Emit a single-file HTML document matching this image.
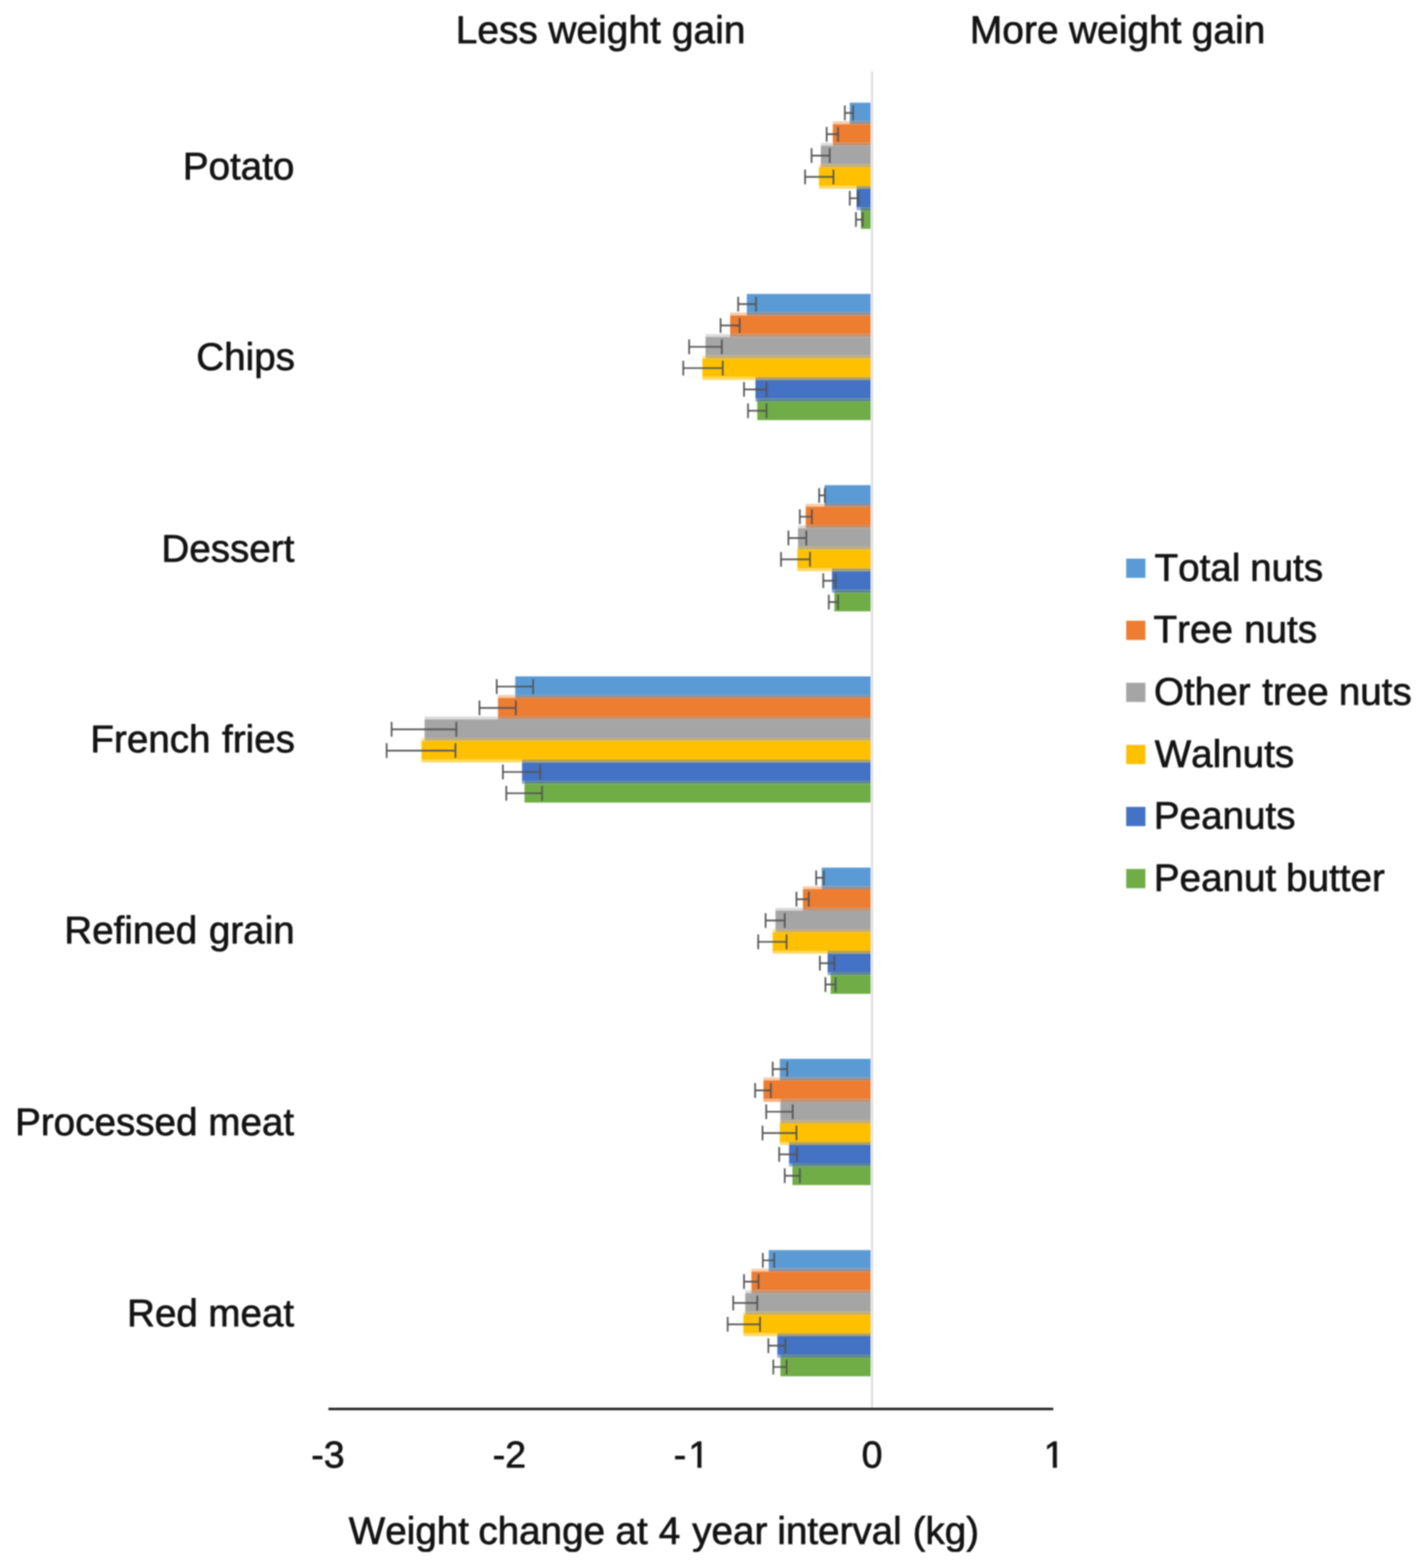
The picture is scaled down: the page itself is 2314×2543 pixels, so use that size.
<!DOCTYPE html>
<html lang="en"><head><meta charset="utf-8"><title>Weight change at 4 year interval</title>
<style>html,body{margin:0;padding:0;background:#fff}body{width:2314px;height:2543px;overflow:hidden}svg{display:block}text{font-family:"Liberation Sans",Arial,sans-serif;font-size:62.6px;fill:#141414;stroke:#141414;stroke-width:1.1px;stroke-linejoin:round;font-kerning:none;text-rendering:geometricPrecision;white-space:pre}.t{font-size:63.1px}.k{font-size:60.8px}</style>
</head><body>
<svg width="2314" height="2543" viewBox="0 0 2314 2543">
<defs>
<filter id="ft" filterUnits="userSpaceOnUse" x="-20" y="-20" width="2354" height="2583" color-interpolation-filters="sRGB"><feGaussianBlur stdDeviation="1.1"/></filter>
<filter id="fb" filterUnits="userSpaceOnUse" x="-20" y="-20" width="2354" height="2583" color-interpolation-filters="sRGB"><feGaussianBlur stdDeviation="1.1"/></filter>
<filter id="fe" filterUnits="userSpaceOnUse" x="-20" y="-20" width="2354" height="2583" color-interpolation-filters="sRGB"><feGaussianBlur stdDeviation="1.3"/></filter>
</defs>
<rect x="-20" y="-20" width="2354" height="2583" fill="#ffffff"/>
<g filter="url(#ft)">
<text class="t" y="70.2"><tspan x="738.9">Less</tspan> <tspan x="889.2">weight</tspan> <tspan x="1089.5">gain</tspan></text>
<text class="t" y="70.2"><tspan x="1572.8">More</tspan> <tspan x="1733.5">weight</tspan> <tspan x="1932.5">gain</tspan></text>
</g>
<g filter="url(#fb)">
<rect x="1378.0" y="166.50" width="34.2" height="30.20" fill="#5B9BD5"/>
<rect x="1350.5" y="196.70" width="27.5" height="4.70" fill="#f8cbad"/>
<rect x="1378.0" y="196.70" width="34.2" height="4.70" fill="#949093"/>
<rect x="1350.5" y="201.40" width="61.7" height="30.20" fill="#ED7D31"/>
<rect x="1331.0" y="231.60" width="19.5" height="4.70" fill="#dbdbdb"/>
<rect x="1350.5" y="231.60" width="61.7" height="4.70" fill="#c3916f"/>
<rect x="1331.0" y="236.30" width="81.2" height="30.20" fill="#A5A5A5"/>
<rect x="1328.0" y="266.50" width="3.0" height="4.70" fill="#ffe699"/>
<rect x="1331.0" y="266.50" width="81.2" height="4.70" fill="#c2af76"/>
<rect x="1328.0" y="271.20" width="84.2" height="30.20" fill="#FFC000"/>
<rect x="1328.0" y="301.40" width="61.0" height="4.70" fill="#ffd966"/>
<rect x="1389.0" y="301.40" width="23.2" height="4.70" fill="#aea062"/>
<rect x="1389.0" y="306.10" width="23.2" height="30.20" fill="#4472C4"/>
<rect x="1389.0" y="336.30" width="7.0" height="4.70" fill="#8faadc"/>
<rect x="1396.0" y="336.30" width="16.2" height="4.70" fill="#5f868c"/>
<rect x="1396.0" y="341.00" width="16.2" height="30.20" fill="#70AD47"/>
<rect x="1211.0" y="476.65" width="201.2" height="30.20" fill="#5B9BD5"/>
<rect x="1184.0" y="506.85" width="27.0" height="4.70" fill="#f8cbad"/>
<rect x="1211.0" y="506.85" width="201.2" height="4.70" fill="#949093"/>
<rect x="1184.0" y="511.55" width="228.2" height="30.20" fill="#ED7D31"/>
<rect x="1144.0" y="541.75" width="40.0" height="4.70" fill="#dbdbdb"/>
<rect x="1184.0" y="541.75" width="228.2" height="4.70" fill="#c3916f"/>
<rect x="1144.0" y="546.45" width="268.2" height="30.20" fill="#A5A5A5"/>
<rect x="1139.0" y="576.65" width="5.0" height="4.70" fill="#ffe699"/>
<rect x="1144.0" y="576.65" width="268.2" height="4.70" fill="#c2af76"/>
<rect x="1139.0" y="581.35" width="273.2" height="30.20" fill="#FFC000"/>
<rect x="1139.0" y="611.55" width="86.0" height="4.70" fill="#ffd966"/>
<rect x="1225.0" y="611.55" width="187.2" height="4.70" fill="#aea062"/>
<rect x="1225.0" y="616.25" width="187.2" height="30.20" fill="#4472C4"/>
<rect x="1225.0" y="646.45" width="3.0" height="4.70" fill="#8faadc"/>
<rect x="1228.0" y="646.45" width="184.2" height="4.70" fill="#5f868c"/>
<rect x="1228.0" y="651.15" width="184.2" height="30.20" fill="#70AD47"/>
<rect x="1337.0" y="786.80" width="75.2" height="30.20" fill="#5B9BD5"/>
<rect x="1306.5" y="817.00" width="30.5" height="4.70" fill="#f8cbad"/>
<rect x="1337.0" y="817.00" width="75.2" height="4.70" fill="#949093"/>
<rect x="1306.5" y="821.70" width="105.7" height="30.20" fill="#ED7D31"/>
<rect x="1294.0" y="851.90" width="12.5" height="4.70" fill="#dbdbdb"/>
<rect x="1306.5" y="851.90" width="105.7" height="4.70" fill="#c3916f"/>
<rect x="1294.0" y="856.60" width="118.2" height="30.20" fill="#A5A5A5"/>
<rect x="1293.0" y="886.80" width="1.0" height="4.70" fill="#ffe699"/>
<rect x="1294.0" y="886.80" width="118.2" height="4.70" fill="#c2af76"/>
<rect x="1293.0" y="891.50" width="119.2" height="30.20" fill="#FFC000"/>
<rect x="1293.0" y="921.70" width="56.0" height="4.70" fill="#ffd966"/>
<rect x="1349.0" y="921.70" width="63.2" height="4.70" fill="#aea062"/>
<rect x="1349.0" y="926.40" width="63.2" height="30.20" fill="#4472C4"/>
<rect x="1349.0" y="956.60" width="4.0" height="4.70" fill="#8faadc"/>
<rect x="1353.0" y="956.60" width="59.2" height="4.70" fill="#5f868c"/>
<rect x="1353.0" y="961.30" width="59.2" height="30.20" fill="#70AD47"/>
<rect x="835.5" y="1096.95" width="576.7" height="30.20" fill="#5B9BD5"/>
<rect x="807.5" y="1127.15" width="28.0" height="4.70" fill="#f8cbad"/>
<rect x="835.5" y="1127.15" width="576.7" height="4.70" fill="#949093"/>
<rect x="807.5" y="1131.85" width="604.7" height="30.20" fill="#ED7D31"/>
<rect x="688.5" y="1162.05" width="119.0" height="4.70" fill="#dbdbdb"/>
<rect x="807.5" y="1162.05" width="604.7" height="4.70" fill="#c3916f"/>
<rect x="688.5" y="1166.75" width="723.7" height="30.20" fill="#A5A5A5"/>
<rect x="683.5" y="1196.95" width="5.0" height="4.70" fill="#ffe699"/>
<rect x="688.5" y="1196.95" width="723.7" height="4.70" fill="#c2af76"/>
<rect x="683.5" y="1201.65" width="728.7" height="30.20" fill="#FFC000"/>
<rect x="683.5" y="1231.85" width="163.0" height="4.70" fill="#ffd966"/>
<rect x="846.5" y="1231.85" width="565.7" height="4.70" fill="#aea062"/>
<rect x="846.5" y="1236.55" width="565.7" height="30.20" fill="#4472C4"/>
<rect x="846.5" y="1266.75" width="4.0" height="4.70" fill="#8faadc"/>
<rect x="850.5" y="1266.75" width="561.7" height="4.70" fill="#5f868c"/>
<rect x="850.5" y="1271.45" width="561.7" height="30.20" fill="#70AD47"/>
<rect x="1332.5" y="1407.10" width="79.7" height="30.20" fill="#5B9BD5"/>
<rect x="1302.0" y="1437.30" width="30.5" height="4.70" fill="#f8cbad"/>
<rect x="1332.5" y="1437.30" width="79.7" height="4.70" fill="#949093"/>
<rect x="1302.0" y="1442.00" width="110.2" height="30.20" fill="#ED7D31"/>
<rect x="1257.5" y="1472.20" width="44.5" height="4.70" fill="#dbdbdb"/>
<rect x="1302.0" y="1472.20" width="110.2" height="4.70" fill="#c3916f"/>
<rect x="1257.5" y="1476.90" width="154.7" height="30.20" fill="#A5A5A5"/>
<rect x="1253.0" y="1507.10" width="4.5" height="4.70" fill="#ffe699"/>
<rect x="1257.5" y="1507.10" width="154.7" height="4.70" fill="#c2af76"/>
<rect x="1253.0" y="1511.80" width="159.2" height="30.20" fill="#FFC000"/>
<rect x="1253.0" y="1542.00" width="89.0" height="4.70" fill="#ffd966"/>
<rect x="1342.0" y="1542.00" width="70.2" height="4.70" fill="#aea062"/>
<rect x="1342.0" y="1546.70" width="70.2" height="30.20" fill="#4472C4"/>
<rect x="1342.0" y="1576.90" width="5.0" height="4.70" fill="#8faadc"/>
<rect x="1347.0" y="1576.90" width="65.2" height="4.70" fill="#5f868c"/>
<rect x="1347.0" y="1581.60" width="65.2" height="30.20" fill="#70AD47"/>
<rect x="1264.5" y="1717.25" width="147.7" height="30.20" fill="#5B9BD5"/>
<rect x="1238.0" y="1747.45" width="26.5" height="4.70" fill="#f8cbad"/>
<rect x="1264.5" y="1747.45" width="147.7" height="4.70" fill="#949093"/>
<rect x="1238.0" y="1752.15" width="174.2" height="30.20" fill="#ED7D31"/>
<rect x="1238.0" y="1782.35" width="27.5" height="4.70" fill="#f4b183"/>
<rect x="1265.5" y="1782.35" width="146.7" height="4.70" fill="#c3916f"/>
<rect x="1265.5" y="1787.05" width="146.7" height="30.20" fill="#A5A5A5"/>
<rect x="1264.5" y="1817.25" width="1.0" height="4.70" fill="#ffe699"/>
<rect x="1265.5" y="1817.25" width="146.7" height="4.70" fill="#c2af76"/>
<rect x="1264.5" y="1821.95" width="147.7" height="30.20" fill="#FFC000"/>
<rect x="1264.5" y="1852.15" width="15.0" height="4.70" fill="#ffd966"/>
<rect x="1279.5" y="1852.15" width="132.7" height="4.70" fill="#aea062"/>
<rect x="1279.5" y="1856.85" width="132.7" height="30.20" fill="#4472C4"/>
<rect x="1279.5" y="1887.05" width="5.5" height="4.70" fill="#8faadc"/>
<rect x="1285.0" y="1887.05" width="127.2" height="4.70" fill="#5f868c"/>
<rect x="1285.0" y="1891.75" width="127.2" height="30.20" fill="#70AD47"/>
<rect x="1246.5" y="2027.40" width="165.7" height="30.20" fill="#5B9BD5"/>
<rect x="1218.5" y="2057.60" width="28.0" height="4.70" fill="#f8cbad"/>
<rect x="1246.5" y="2057.60" width="165.7" height="4.70" fill="#949093"/>
<rect x="1218.5" y="2062.30" width="193.7" height="30.20" fill="#ED7D31"/>
<rect x="1208.5" y="2092.50" width="10.0" height="4.70" fill="#dbdbdb"/>
<rect x="1218.5" y="2092.50" width="193.7" height="4.70" fill="#c3916f"/>
<rect x="1208.5" y="2097.20" width="203.7" height="30.20" fill="#A5A5A5"/>
<rect x="1205.5" y="2127.40" width="3.0" height="4.70" fill="#ffe699"/>
<rect x="1208.5" y="2127.40" width="203.7" height="4.70" fill="#c2af76"/>
<rect x="1205.5" y="2132.10" width="206.7" height="30.20" fill="#FFC000"/>
<rect x="1205.5" y="2162.30" width="55.0" height="4.70" fill="#ffd966"/>
<rect x="1260.5" y="2162.30" width="151.7" height="4.70" fill="#aea062"/>
<rect x="1260.5" y="2167.00" width="151.7" height="30.20" fill="#4472C4"/>
<rect x="1260.5" y="2197.20" width="5.0" height="4.70" fill="#8faadc"/>
<rect x="1265.5" y="2197.20" width="146.7" height="4.70" fill="#5f868c"/>
<rect x="1265.5" y="2201.90" width="146.7" height="30.20" fill="#70AD47"/>
</g>
<g filter="url(#fe)">
<rect x="1412.4" y="116" width="3.4" height="2168.5" fill="#dddddd"/>
<g stroke="#545454" stroke-width="2.7" fill="none">
<path d="M1370.0 183.1H1383.5M1370.0 171.1V195.1M1383.5 171.1V195.1"/>
<path d="M1340.5 217.7H1359.0M1340.5 205.7V229.7M1359.0 205.7V229.7"/>
<path d="M1316.0 252.3H1345.5M1316.0 240.3V264.3M1345.5 240.3V264.3"/>
<path d="M1305.5 286.9H1351.5M1305.5 274.9V298.9M1351.5 274.9V298.9"/>
<path d="M1378.0 321.5H1392.0M1378.0 309.5V333.5M1392.0 309.5V333.5"/>
<path d="M1388.0 356.1H1399.0M1388.0 344.1V368.1M1399.0 344.1V368.1"/>
<path d="M1197.0 493.2H1226.0M1197.0 481.2V505.2M1226.0 481.2V505.2"/>
<path d="M1168.5 527.9H1199.5M1168.5 515.9V539.9M1199.5 515.9V539.9"/>
<path d="M1117.5 562.5H1170.5M1117.5 550.5V574.5M1170.5 550.5V574.5"/>
<path d="M1108.0 597.0H1172.0M1108.0 585.0V609.0M1172.0 585.0V609.0"/>
<path d="M1206.5 631.6H1243.0M1206.5 619.6V643.6M1243.0 619.6V643.6"/>
<path d="M1213.0 666.2H1243.0M1213.0 654.2V678.2M1243.0 654.2V678.2"/>
<path d="M1328.3 803.4H1337.8M1328.3 791.4V815.4M1337.8 791.4V815.4"/>
<path d="M1297.0 838.0H1316.5M1297.0 826.0V850.0M1316.5 826.0V850.0"/>
<path d="M1278.5 872.6H1307.5M1278.5 860.6V884.6M1307.5 860.6V884.6"/>
<path d="M1266.5 907.2H1313.5M1266.5 895.2V919.2M1313.5 895.2V919.2"/>
<path d="M1335.0 941.8H1355.0M1335.0 929.8V953.8M1355.0 929.8V953.8"/>
<path d="M1344.0 976.4H1359.0M1344.0 964.4V988.4M1359.0 964.4V988.4"/>
<path d="M805.5 1113.5H864.5M805.5 1101.5V1125.5M864.5 1101.5V1125.5"/>
<path d="M777.5 1148.1H836.5M777.5 1136.1V1160.1M836.5 1136.1V1160.1"/>
<path d="M635.0 1182.8H740.0M635.0 1170.8V1194.8M740.0 1170.8V1194.8"/>
<path d="M627.0 1217.3H738.5M627.0 1205.3V1229.3M738.5 1205.3V1229.3"/>
<path d="M815.5 1252.0H876.0M815.5 1240.0V1264.0M876.0 1240.0V1264.0"/>
<path d="M821.0 1286.5H879.0M821.0 1274.5V1298.5M879.0 1274.5V1298.5"/>
<path d="M1323.5 1423.7H1336.0M1323.5 1411.7V1435.7M1336.0 1411.7V1435.7"/>
<path d="M1291.5 1458.3H1311.5M1291.5 1446.3V1470.3M1311.5 1446.3V1470.3"/>
<path d="M1241.5 1492.9H1272.5M1241.5 1480.9V1504.9M1272.5 1480.9V1504.9"/>
<path d="M1229.5 1527.5H1275.5M1229.5 1515.5V1539.5M1275.5 1515.5V1539.5"/>
<path d="M1329.5 1562.1H1353.0M1329.5 1550.1V1574.1M1353.0 1550.1V1574.1"/>
<path d="M1338.5 1596.7H1355.0M1338.5 1584.7V1608.7M1355.0 1584.7V1608.7"/>
<path d="M1253.0 1733.8H1276.5M1253.0 1721.8V1745.8M1276.5 1721.8V1745.8"/>
<path d="M1224.5 1768.4H1250.0M1224.5 1756.4V1780.4M1250.0 1756.4V1780.4"/>
<path d="M1242.5 1803.0H1285.5M1242.5 1791.0V1815.0M1285.5 1791.0V1815.0"/>
<path d="M1236.5 1837.6H1291.5M1236.5 1825.6V1849.6M1291.5 1825.6V1849.6"/>
<path d="M1263.5 1872.2H1292.5M1263.5 1860.2V1884.2M1292.5 1860.2V1884.2"/>
<path d="M1272.5 1906.8H1297.0M1272.5 1894.8V1918.8M1297.0 1894.8V1918.8"/>
<path d="M1237.0 2044.0H1255.5M1237.0 2032.0V2056.0M1255.5 2032.0V2056.0"/>
<path d="M1206.5 2078.6H1230.0M1206.5 2066.6V2090.6M1230.0 2066.6V2090.6"/>
<path d="M1189.0 2113.2H1228.0M1189.0 2101.2V2125.2M1228.0 2101.2V2125.2"/>
<path d="M1180.0 2147.8H1232.5M1180.0 2135.8V2159.8M1232.5 2135.8V2159.8"/>
<path d="M1246.0 2182.4H1273.5M1246.0 2170.4V2194.4M1273.5 2170.4V2194.4"/>
<path d="M1254.0 2217.0H1275.5M1254.0 2205.0V2229.0M1275.5 2205.0V2229.0"/>
</g>
<rect x="532.6" y="2283.0" width="1175.4" height="4.2" fill="#2a2a2a"/>
</g>
<g filter="url(#ft)">
<text y="290.5"><tspan x="296.4">Potato</tspan></text>
<text y="600.0"><tspan x="318.3">Chips</tspan></text>
<text y="911.0"><tspan x="261.7">Dessert</tspan></text>
<text y="1219.5"><tspan x="146.6">French</tspan> <tspan x="360.0">fries</tspan></text>
<text y="1530.4"><tspan x="104.2">Refined</tspan> <tspan x="338.7">grain</tspan></text>
<text y="1841.0"><tspan x="24.5">Processed</tspan> <tspan x="337.8">meat</tspan></text>
<text y="2150.6"><tspan x="206.0">Red</tspan> <tspan x="337.8">meat</tspan></text>
<text class="k" x="504.8" y="2380.2">-3</text>
<text class="k" x="798.9" y="2380.2">-2</text>
<text class="k" x="1397.3" y="2380.2">0</text>
<clipPath id="c1"><rect x="1056.2" y="2310.2" width="160" height="63.9"/><rect x="1130.9" y="2373.1" width="6.6" height="8.1"/></clipPath>
<text class="k" x="1092.4" y="2380.2" clip-path="url(#c1)">-<tspan dx="3.60">1</tspan></text>
<clipPath id="c2"><rect x="1632.6" y="2310.2" width="160" height="63.9"/><rect x="1707.3" y="2373.1" width="6.6" height="8.1"/></clipPath>
<text class="k" x="1692.6" y="2380.2" clip-path="url(#c2)">1</text>
<clipPath id="ca"><rect x="500" y="2400" width="1200" height="117"/></clipPath>
<text y="2503.6" clip-path="url(#ca)"><tspan x="565.6">Weight</tspan> <tspan x="775.7">change</tspan> <tspan x="998.1">at</tspan> <tspan x="1068.3">4</tspan> <tspan x="1122.5">year</tspan> <tspan x="1260.5">interval</tspan> <tspan x="1479.9">(kg)</tspan></text>
<rect x="1826.2" y="906.0" width="31.2" height="31.2" fill="#5B9BD5"/>
<text y="941.6"><tspan x="1872.2">Total</tspan> <tspan x="2027.2">nuts</tspan></text>
<rect x="1826.2" y="1006.7" width="31.2" height="31.2" fill="#ED7D31"/>
<text y="1042.3"><tspan x="1870.6">Tree</tspan> <tspan x="2017.4">nuts</tspan></text>
<rect x="1826.2" y="1107.3" width="31.2" height="31.2" fill="#A5A5A5"/>
<text y="1142.9"><tspan x="1871.3">Other</tspan> <tspan x="2046.8">tree</tspan> <tspan x="2170.9">nuts</tspan></text>
<rect x="1826.2" y="1208.0" width="31.2" height="31.2" fill="#FFC000"/>
<text y="1243.6"><tspan x="1872.5">Walnuts</tspan></text>
<rect x="1826.2" y="1308.6" width="31.2" height="31.2" fill="#4472C4"/>
<text y="1344.2"><tspan x="1871.1">Peanuts</tspan></text>
<rect x="1826.2" y="1409.3" width="31.2" height="31.2" fill="#70AD47"/>
<text y="1444.9"><tspan x="1871.1">Peanut</tspan> <tspan x="2085.6">butter</tspan></text>
</g>
</svg>
</body></html>
